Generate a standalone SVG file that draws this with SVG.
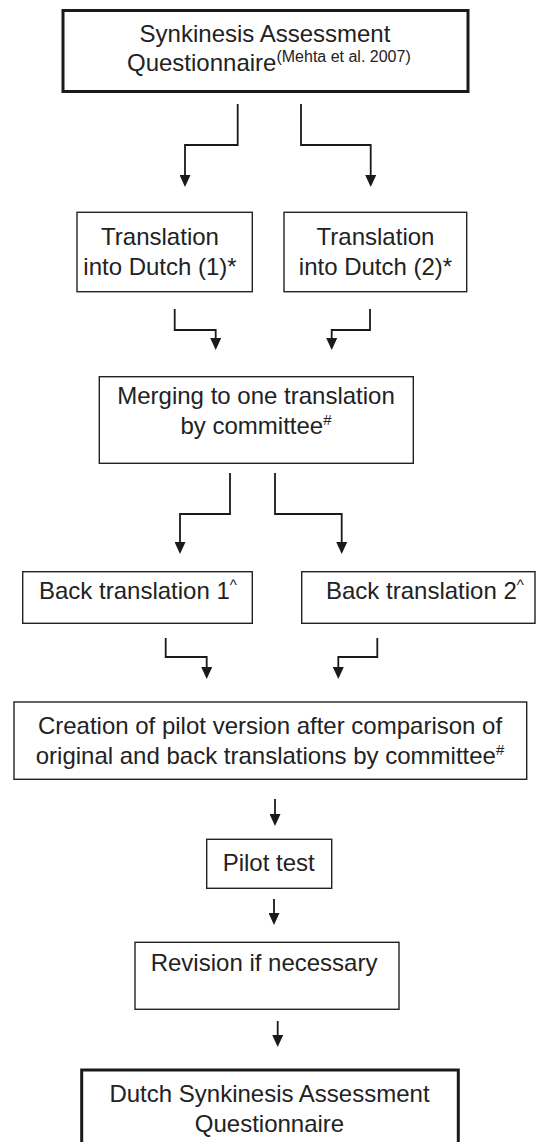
<svg xmlns="http://www.w3.org/2000/svg" width="539" height="1142" viewBox="0 0 539 1142">
<style>
.box{fill:#fff;stroke:#222;stroke-width:1.4}
.thick{fill:#fff;stroke:#1a1a1a;stroke-width:3}
.t{font-family:"Liberation Sans",Arial,sans-serif;font-size:24px;fill:#222}
.m{text-anchor:middle}
.sup{font-size:15px}
.ref{font-size:16px}
.c{fill:none;stroke:#1a1a1a;stroke-width:1.8}
</style>
<defs>
<marker id="ah" viewBox="0 0 12 11" refX="0" refY="5.5" markerWidth="12" markerHeight="11" markerUnits="userSpaceOnUse" orient="auto">
<path d="M0,0 L12,5.5 L0,11 z" fill="#1a1a1a"/>
</marker>
</defs>
<rect width="539" height="1142" fill="#fff"/>
<g id="connectors">
<path class="c" marker-end="url(#ah)" d="M237.7,104 V145 H185 V175"/>
<path class="c" marker-end="url(#ah)" d="M301,104 V145 H370.7 V175"/>
<path class="c" marker-end="url(#ah)" d="M174.7,309 V330 H215.7 V338"/>
<path class="c" marker-end="url(#ah)" d="M370,309 V330 H331.7 V338"/>
<path class="c" marker-end="url(#ah)" d="M230,473 V514 H180 V542"/>
<path class="c" marker-end="url(#ah)" d="M275,473 V514 H341.7 V542"/>
<path class="c" marker-end="url(#ah)" d="M165.7,638 V657 H206.7 V667"/>
<path class="c" marker-end="url(#ah)" d="M377.3,638 V657 H338.3 V667"/>
<path class="c" marker-end="url(#ah)" d="M275,799 V814"/>
<path class="c" marker-end="url(#ah)" d="M274,899 V913"/>
<path class="c" marker-end="url(#ah)" d="M277.7,1021 V1035"/>
</g>
<g id="n_saq">
<rect class="thick" x="63" y="10.5" width="405" height="81"/>
<text class="t m" x="265" y="41.5">Synkinesis Assessment</text>
<text class="t" x="127" y="70.5">Questionnaire<tspan class="ref" dy="-9">(Mehta et al. 2007)</tspan></text>
</g>
<g id="n_tr1">
<rect class="box" x="77" y="212.3" width="175.3" height="79.4"/>
<text class="t m" x="160" y="244.5">Translation</text>
<text class="t m" x="160" y="274.5">into Dutch (1)*</text>
</g>
<g id="n_tr2">
<rect class="box" x="284" y="212.3" width="182.7" height="79.4"/>
<text class="t m" x="375.5" y="244.5">Translation</text>
<text class="t m" x="375.5" y="274.5">into Dutch (2)*</text>
</g>
<g id="n_merge">
<rect class="box" x="99.3" y="376.7" width="314" height="86.6"/>
<text class="t m" x="256" y="404">Merging to one translation</text>
<text class="t m" x="256" y="434">by committee<tspan class="sup" dy="-9">#</tspan></text>
</g>
<g id="n_back1">
<rect class="box" x="22.7" y="571.7" width="229.6" height="51.6"/>
<text class="t" x="39" y="598.5">Back translation 1<tspan class="sup" dy="-9">^</tspan></text>
</g>
<g id="n_back2">
<rect class="box" x="301.7" y="571.7" width="233.3" height="51.6"/>
<text class="t" x="326" y="598.5">Back translation 2<tspan class="sup" dy="-9">^</tspan></text>
</g>
<g id="n_creation">
<rect class="box" x="14" y="702" width="512.7" height="77.3"/>
<text class="t m" x="270" y="733.5">Creation of pilot version after comparison of</text>
<text class="t m" x="270" y="763.5">original and back translations by committee<tspan class="sup" dy="-9">#</tspan></text>
</g>
<g id="n_pilot">
<rect class="box" x="206.7" y="839.3" width="125" height="49"/>
<text class="t" x="222.7" y="870.5">Pilot test</text>
</g>
<g id="n_revision">
<rect class="box" x="135" y="942.3" width="264" height="67"/>
<text class="t" x="150.7" y="971">Revision if necessary</text>
</g>
<g id="n_final">
<rect class="thick" x="81.7" y="1070" width="376.6" height="80"/>
<text class="t m" x="269.5" y="1101.5">Dutch Synkinesis Assessment</text>
<text class="t m" x="269.5" y="1131.5">Questionnaire</text>
</g>
</svg>
